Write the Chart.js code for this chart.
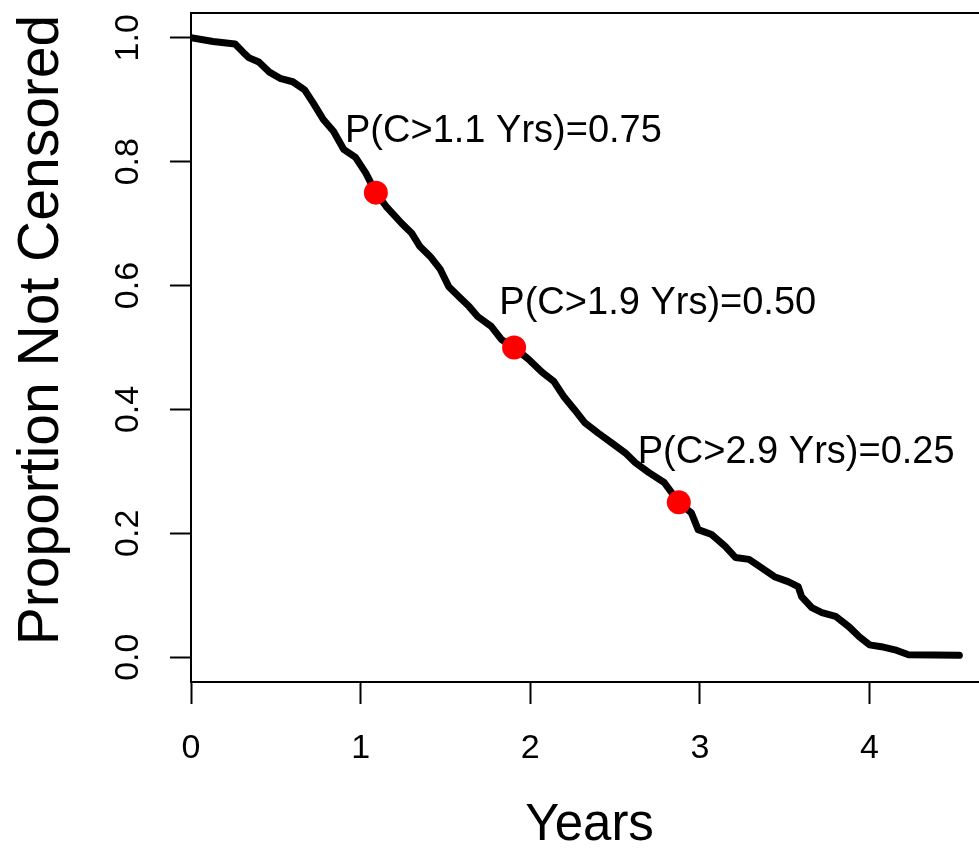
<!DOCTYPE html>
<html>
<head>
<meta charset="utf-8">
<script src="https://cdn.jsdelivr.net/npm/chart.js@4"></script>
<style>
  html, body { margin: 0; padding: 0; background: #fff; overflow: hidden; }
  #wrap { width: 990px; height: 852px; }
</style>
</head>
<body>
<div id="wrap"><canvas id="kmChart" width="990" height="852"></canvas></div>
<script>
// Censoring-time survival estimate (years vs proportion not censored)
const years = [0, 0.13, 0.26, 0.31, 0.34, 0.40, 0.46, 0.53, 0.60, 0.67, 0.72, 0.78, 0.84, 0.90, 0.97, 1.03,
  1.09, 1.15, 1.24, 1.30, 1.35, 1.41, 1.47, 1.52, 1.58, 1.64, 1.69, 1.77, 1.83, 1.905, 1.99, 2.07, 2.14,
  2.20, 2.26, 2.32, 2.40, 2.48, 2.56, 2.62, 2.70, 2.79, 2.876, 2.95, 2.99, 3.07, 3.15, 3.21, 3.29, 3.36,
  3.44, 3.52, 3.58, 3.60, 3.66, 3.72, 3.80, 3.88, 3.94, 4.00, 4.07, 4.15, 4.23, 4.53];
const notCensored = [1.0, 0.994, 0.990, 0.976, 0.968, 0.961, 0.945, 0.934, 0.929, 0.916, 0.895, 0.868, 0.849, 0.82, 0.807, 0.782,
  0.75, 0.728, 0.701, 0.685, 0.663, 0.647, 0.626, 0.598, 0.582, 0.566, 0.550, 0.534, 0.513, 0.50, 0.481, 0.46, 0.445,
  0.42, 0.40, 0.379, 0.362, 0.346, 0.330, 0.314, 0.298, 0.282, 0.25, 0.233, 0.206, 0.198, 0.179, 0.161, 0.158, 0.145,
  0.130, 0.122, 0.114, 0.098, 0.080, 0.072, 0.066, 0.049, 0.033, 0.020, 0.017, 0.012, 0.004, 0.003];

// Quartile markers and their labels
const markYears = [1.09, 1.905, 2.876];
const markProbs = [0.75, 0.50, 0.25];
const markText = ['P(C>1.1 Yrs)=0.75', 'P(C>1.9 Yrs)=0.50', 'P(C>2.9 Yrs)=0.25'];
const textYears = [1.842, 2.752, 3.568];
const textProbs = [0.849, 0.571, 0.331];

const xTicks = [0, 1, 2, 3, 4];
const yTicks = [0, 0.2, 0.4, 0.6, 0.8, 1.0];
const yTickText = ['0.0', '0.2', '0.4', '0.6', '0.8', '1.0'];

const FONT = '"Liberation Sans", Arial, Helvetica, sans-serif';

// frame, rotated y labels, axis titles, annotations
const decorations = {
  id: 'decorations',
  afterDatasetsDraw(chart) {
    const { ctx, chartArea: a, scales: { x, y } } = chart;
    ctx.save();
    ctx.strokeStyle = '#000';
    ctx.lineWidth = 2;
    ctx.strokeRect(a.left, a.top, a.right - a.left + 40, a.bottom - a.top);

    ctx.fillStyle = '#000';
    ctx.textAlign = 'center';
    ctx.textBaseline = 'middle';

    // annotations
    ctx.font = '38px ' + FONT;
    markText.forEach((t, i) => {
      ctx.fillText(t, x.getPixelForValue(textYears[i]), y.getPixelForValue(textProbs[i]));
    });

    // y tick labels, rotated like base R
    ctx.font = '34px ' + FONT;
    yTicks.forEach((v, i) => {
      ctx.save();
      ctx.translate(129, y.getPixelForValue(v));
      ctx.rotate(-Math.PI / 2);
      ctx.fillText(yTickText[i], 0, 0);
      ctx.restore();
    });

    // axis titles
    ctx.font = '51px ' + FONT;
    ctx.fillText('Years', x.getPixelForValue(2.35), 826);
    ctx.font = '57px ' + FONT;
    ctx.save();
    ctx.translate(42, 330);
    ctx.rotate(-Math.PI / 2);
    ctx.fillText('Proportion Not Censored', 0, 0);
    ctx.restore();
    ctx.restore();
  }
};

new Chart(document.getElementById('kmChart'), {
  type: 'line',
  data: {
    datasets: [
      {
        type: 'scatter',
        data: markYears.map((v, i) => ({ x: v, y: markProbs[i] })),
        backgroundColor: '#ff0000',
        borderWidth: 0,
        pointRadius: 12,
        order: 0
      },
      {
        data: years.map((v, i) => ({ x: v, y: notCensored[i] })),
        borderColor: '#000',
        borderWidth: 7,
        borderCapStyle: 'round',
        borderJoinStyle: 'round',
        pointRadius: 0,
        tension: 0,
        fill: false,
        order: 1
      }
    ]
  },
  options: {
    responsive: false,
    animation: false,
    layout: { padding: { top: 13, left: 0, right: 2, bottom: 0 } },
    plugins: { legend: { display: false }, tooltip: { enabled: false } },
    scales: {
      x: {
        type: 'linear',
        min: 0,
        max: 4.64,
        afterBuildTicks: s => { s.ticks = xTicks.map(v => ({ value: v })); },
        afterFit: s => { s.height = 170; },
        grid: { drawOnChartArea: false, tickLength: 22, tickWidth: 2, color: '#000' },
        border: { display: true, color: '#000', width: 2 },
        ticks: { color: '#000', font: { family: FONT, size: 34 }, padding: 24, maxRotation: 0 }
      },
      y: {
        type: 'linear',
        min: -0.04,
        max: 1.04,
        afterBuildTicks: s => { s.ticks = yTicks.map(v => ({ value: v })); },
        afterFit: s => { s.width = 191; },
        grid: { drawOnChartArea: false, tickLength: 21, tickWidth: 2, color: '#000' },
        border: { display: true, color: '#000', width: 2 },
        ticks: { display: false }
      }
    }
  },
  plugins: [decorations]
});
</script>
</body>
</html>
